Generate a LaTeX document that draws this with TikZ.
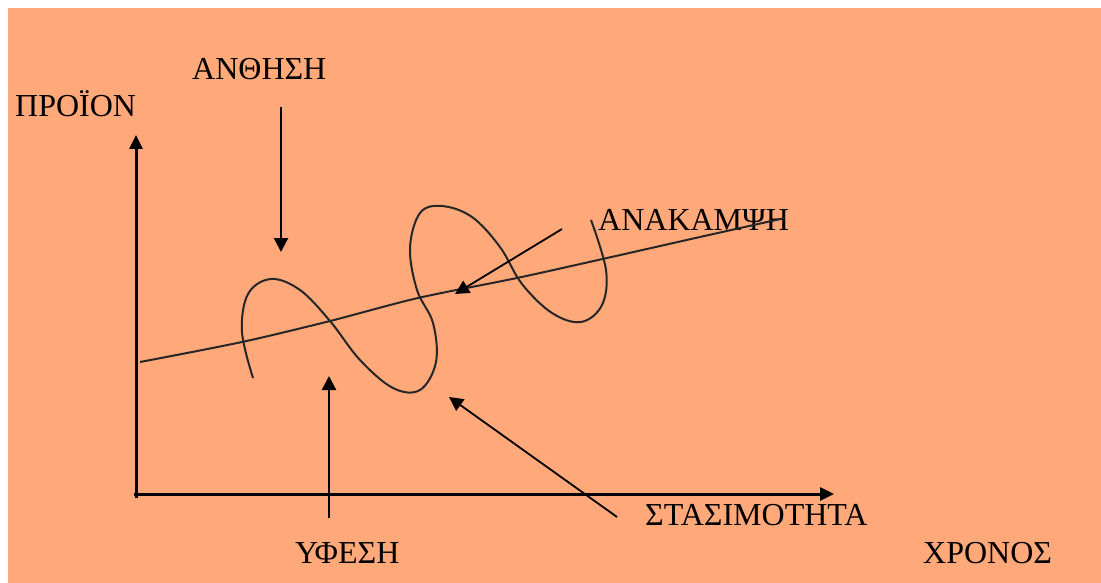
\documentclass[tikz,border=0pt]{standalone}
\usepackage{fontspec}
\setmainfont{Liberation Serif}
\usetikzlibrary{arrows.meta}
\definecolor{cycleBack}{RGB}{255,169,122}

\begin{document}
\begin{tikzpicture}[x=1pt,y=-1pt,
  cycleLabel/.style={anchor=base west, inner sep=0pt, font={\fontsize{32}{32}\selectfont}, text=black},
  cycleAxis/.style={line width=3pt, -{Triangle[width=13pt,length=14pt]}},
  cyclePointer/.style={line width=2.2pt, -{Triangle[width=14pt,length=14pt]}},
  cycleCurve/.style={line width=2pt, black!85}]
\useasboundingbox (0,0) rectangle (1101,583);
\fill[white] (0,0) rectangle (1101,583);
\fill[cycleBack] (8,8) rectangle (1101,583);
% labels
\node[cycleLabel] (proion) at (15,117) {ΠΡΟΪΟΝ};
\node[cycleLabel] (anthisi) at (192,80) {ΑΝΘΗΣΗ};
\node[cycleLabel] (anakampsi) at (598,230) {ΑΝΑΚΑΜΨΗ};
\node[cycleLabel] (stasimotita) at (645,525) {ΣΤΑΣΙΜΟΤΗΤΑ};
\node[cycleLabel] (yfesi) at (295,563) {ΥΦΕΣΗ};
\node[cycleLabel] (chronos) at (923,563) {ΧΡΟΝΟΣ};
% axes
\coordinate (origin) at (136,498);
\coordinate (yTip) at (136,135);
\coordinate (xStart) at (134,494);
\coordinate (xTip) at (834,494);
\draw[cycleAxis] (origin) -- (yTip);
\draw[cycleAxis] (xStart) -- (xTip);
% trend and cycle
\draw[cycleCurve] plot[smooth, tension=0.5] coordinates {(140,362) (242,342) (330,321) (418,298) (517,278) (607,258) (700,237) (785,218)};
\draw[cycleCurve] plot[smooth, tension=0.6] coordinates {(253,378) (242,332) (248,294) (271,279) (300,290) (330,321) (360,360) (393,388) (420,390) (436,362) (433,323) (417,290) (410,248) (420,213) (442,206) (472,217) (500,247) (522,284) (552,313) (581,322) (602,305) (606,270) (591,220)};
% pointers
\coordinate (anthisiTail) at (281,107);
\coordinate (anthisiTip) at (281,252);
\coordinate (yfesiTail) at (329,518);
\coordinate (yfesiTip) at (329,376);
\coordinate (stasiTail) at (617,517);
\coordinate (stasiTip) at (449,397);
\coordinate (anakTail) at (562,229);
\coordinate (anakTip) at (455,294);
\draw[cyclePointer] (anthisiTail) -- (anthisiTip);
\draw[cyclePointer] (yfesiTail) -- (yfesiTip);
\draw[cyclePointer, line width=1.8pt] (stasiTail) -- (stasiTip);
\draw[cyclePointer, line width=1.8pt] (anakTail) -- (anakTip);
\end{tikzpicture}
\end{document}
